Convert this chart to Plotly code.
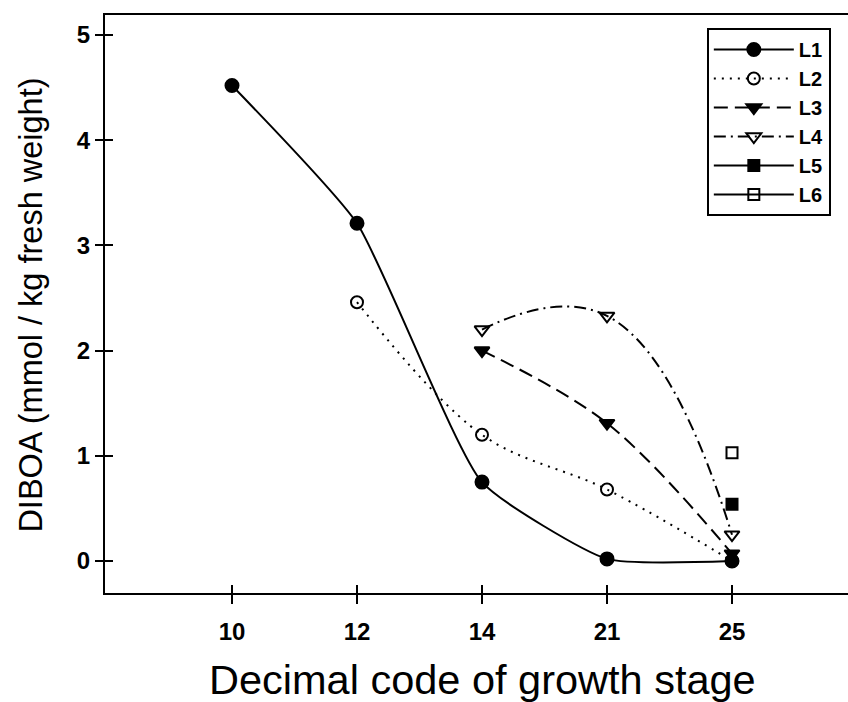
import plotly.graph_objects as go

stages = ["10", "12", "14", "21", "25"]

l1_stages = ["10", "12", "14", "21", "25"]
l1_vals = [4.52, 3.21, 0.75, 0.02, 0.0]
l2_stages = ["12", "14", "21", "25"]
l2_vals = [2.46, 1.20, 0.68, 0.0]
l3_stages = ["14", "21", "25"]
l3_vals = [2.00, 1.31, 0.07]
l4_stages = ["14", "21", "25"]
l4_vals = [2.20, 2.33, 0.25]
l5_stages = ["25"]
l5_vals = [0.54]
l6_stages = ["25"]
l6_vals = [1.03]

x_title = "Decimal code of growth stage"
y_title = "DIBOA (mmol / kg fresh weight)"

def pos(labels):
    return [stages.index(s) for s in labels]

series = [
    ("L1", l1_stages, l1_vals, "circle", "solid", 13, 0.5),
    ("L2", l2_stages, l2_vals, "circle-open", "2px,6px", 12, 1.0),
    ("L3", l3_stages, l3_vals, "triangle-down", "14px,7px", 13, 1.0),
    ("L4", l4_stages, l4_vals, "triangle-down-open", "12px,5px,2px,5px", 13, 1.3),
    ("L5", l5_stages, l5_vals, "square", "solid", 11, 1.0),
    ("L6", l6_stages, l6_vals, "square-open", "solid", 11, 1.0),
]

FONT = "Liberation Sans, Arial, sans-serif"

fig = go.Figure()
for name, xs, ys, sym, dash, size, sm in series:
    fig.add_trace(go.Scatter(
        x=pos(xs), y=ys, name=name,
        mode="lines+markers",
        line=dict(color="black", width=2, dash=dash, shape="spline", smoothing=sm),
        marker=dict(symbol=sym, size=size, color="black",
                    line=dict(color="black", width=2)),
    ))

xr = [-1.016, 4.928]
yr = [-0.304, 5.19]
tickfont = dict(family=FONT, size=24, color="black", weight="bold")

fig.update_layout(
    width=848, height=702,
    margin=dict(l=105, r=0, t=15, b=109),
    paper_bgcolor="white", plot_bgcolor="white",
    font=dict(family=FONT, color="black"),
    xaxis=dict(range=xr, tickmode="array", tickvals=list(range(len(stages))), ticktext=stages,
               showgrid=False, zeroline=False, showline=True, linecolor="black", linewidth=2,
               mirror=True, ticks="outside", ticklen=9, tickwidth=2, tickcolor="black",
               tickfont=tickfont, ticklabelstandoff=7, automargin=False),
    yaxis=dict(range=yr, tickmode="array", tickvals=[0, 1, 2, 3, 4, 5],
               showgrid=False, zeroline=False, showline=True, linecolor="black", linewidth=2,
               ticks="outside", ticklen=8, tickwidth=2, tickcolor="black",
               tickfont=tickfont, ticklabelstandoff=0, automargin=False),
    xaxis2=dict(range=xr, overlaying="x", side="bottom", anchor="y", tickmode="array",
                tickvals=list(range(len(stages))), showticklabels=False, showgrid=False,
                zeroline=False, ticks="inside", ticklen=8, tickwidth=2, tickcolor="black",
                automargin=False),
    yaxis2=dict(range=yr, overlaying="y", side="left", anchor="x", tickmode="array",
                tickvals=[0, 1, 2, 3, 4, 5], showticklabels=False, showgrid=False,
                zeroline=False, ticks="inside", ticklen=8, tickwidth=2, tickcolor="black",
                automargin=False),
    legend=dict(x=0.81, y=0.9775, xanchor="left", yanchor="top",
                bgcolor="white", bordercolor="black", borderwidth=2,
                font=dict(size=20, family=FONT, weight="bold"),
                itemwidth=80),
    showlegend=True,
    annotations=[
        dict(text=x_title, xref="paper", yref="paper", x=0.5087, y=-0.15,
             xanchor="center", yanchor="middle", showarrow=False,
             font=dict(size=41.5, family=FONT, color="black")),
        dict(text=y_title, xref="paper", yref="paper", x=-0.099, y=0.498,
             xanchor="center", yanchor="middle", showarrow=False, textangle=-90,
             font=dict(size=32.5, family=FONT, color="black")),
    ],
)
fig.add_trace(go.Scatter(x=[None], y=[None], xaxis="x2", yaxis="y2", showlegend=False,
                         hoverinfo="skip"))

fig.write_html("out.html", config={"displayModeBar": False},
               post_script="document.body.style.margin='0px';")
